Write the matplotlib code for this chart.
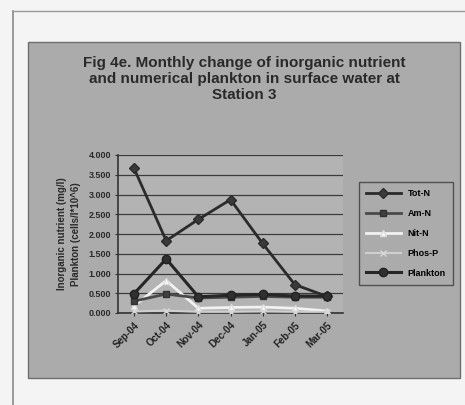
import matplotlib
matplotlib.use('Agg')
import matplotlib.pyplot as plt
from matplotlib.patches import Rectangle
from matplotlib.lines import Line2D

plt.rcParams['font.family'] = ['Liberation Sans', 'DejaVu Sans']
plt.rcParams['font.weight'] = 'bold'

# Monthly samples at station 3
months = ['Sep-04', 'Oct-04', 'Nov-04', 'Dec-04', 'Jan-05', 'Feb-05', 'Mar-05']
tot_n = [3.66, 1.83, 2.37, 2.87, 1.76, 0.72, 0.42]
am_n = [0.30, 0.48, 0.38, 0.40, 0.42, 0.40, 0.40]
nit_n = [0.18, 0.82, 0.12, 0.14, 0.15, 0.12, 0.05]
phos_p = [0.04, 0.06, 0.03, 0.03, 0.04, 0.03, 0.03]
plankton = [0.49, 1.37, 0.41, 0.45, 0.47, 0.43, 0.43]
yticks = [0.0, 0.5, 1.0, 1.5, 2.0, 2.5, 3.0, 3.5, 4.0]

W, H = 465, 405
fig = plt.figure(figsize=(W / 100, H / 100), dpi=100, facecolor='#f4f4f4')


def fx(px):
    return px / W


def fy(py):
    return 1 - py / H


# page frame lines
fig.add_artist(Line2D([fx(13), fx(13)], [fy(11), fy(405)], color='#8a8a8a', lw=1.2))
fig.add_artist(Line2D([fx(13), fx(465)], [fy(11), fy(11)], color='#9a9a9a', lw=1.0))

# chart background box, kept behind the axes
fig.add_artist(Rectangle((fx(28), fy(378)), fx(460) - fx(28), fy(42) - fy(378),
                         transform=fig.transFigure, facecolor='#ababab',
                         edgecolor='#6e6e6e', lw=1.0, zorder=-5))

fig.text(fx(244), fy(79), 'Fig 4e. Monthly change of inorganic nutrient\n'
         'and numerical plankton in surface water at\nStation 3',
         ha='center', va='center', fontsize=11, fontweight='bold',
         color='#2a2a2a', linespacing=1.15)

ax = fig.add_axes([fx(118), fy(313), fx(343) - fx(118), fy(155) - fy(313)])
ax.set_facecolor('#b3b3b3')
x = list(range(len(months)))

ax.plot(x, tot_n, color='#2b2b2b', lw=2.0, marker='D', ms=5,
        mfc='#3a3a3a', mec='#2b2b2b', label='Tot-N', zorder=5)
ax.plot(x, am_n, color='#4a4a4a', lw=2.0, marker='s', ms=5,
        mfc='#404040', mec='#333333', label='Am-N', zorder=4)
ax.plot(x, nit_n, color='#f2f2f2', lw=2.0, marker='^', ms=5,
        mfc='#fafafa', mec='#dddddd', label='Nit-N', zorder=3)
ax.plot(x, phos_p, color='#cfcfcf', lw=1.5, marker='x', ms=5,
        mec='#d8d8d8', label='Phos-P', zorder=3)
ax.plot(x, plankton, color='#262626', lw=2.2, marker='o', ms=6,
        mfc='#303030', mec='#222222', label='Plankton', zorder=6)

ax.set_xlim(-0.5, len(months) - 0.5)
ax.set_ylim(0, 4)
ax.set_yticks(yticks)
ax.set_yticklabels(['%.3f' % v for v in yticks], fontsize=6.5, fontweight='bold',
                   color='#2a2a2a')
ax.set_xticks(x)
ax.set_xticklabels(months, rotation=45, ha='right', rotation_mode='anchor',
                   fontsize=7, fontweight='bold', color='#222222')
ax.tick_params(axis='both', length=2, color='#333333', pad=3)
ax.grid(axis='y', color='#3c3c3c', lw=0.9)
ax.set_axisbelow(True)
for side in ['top', 'right']:
    ax.spines[side].set_visible(False)
for side in ['left', 'bottom']:
    ax.spines[side].set_color('#333333')
    ax.spines[side].set_linewidth(1.2)

ax.set_ylabel('Inorganic nutrient (mg/l)\nPlankton (cells/l*10^6)',
              fontsize=7, fontweight='bold', color='#2a2a2a', labelpad=5,
              linespacing=1.5)

leg = ax.legend(loc='upper left', bbox_to_anchor=(fx(359), fy(182)),
                bbox_transform=fig.transFigure, fontsize=6.5, frameon=True,
                fancybox=False, handlelength=3.8, labelspacing=1.2,
                borderpad=0.8, handletextpad=0.8, borderaxespad=0)
leg.get_frame().set_facecolor('#ababab')
leg.get_frame().set_edgecolor('#3a3a3a')
leg.get_frame().set_linewidth(1.0)

fig.savefig('out.png', dpi=100, facecolor=fig.get_facecolor())
